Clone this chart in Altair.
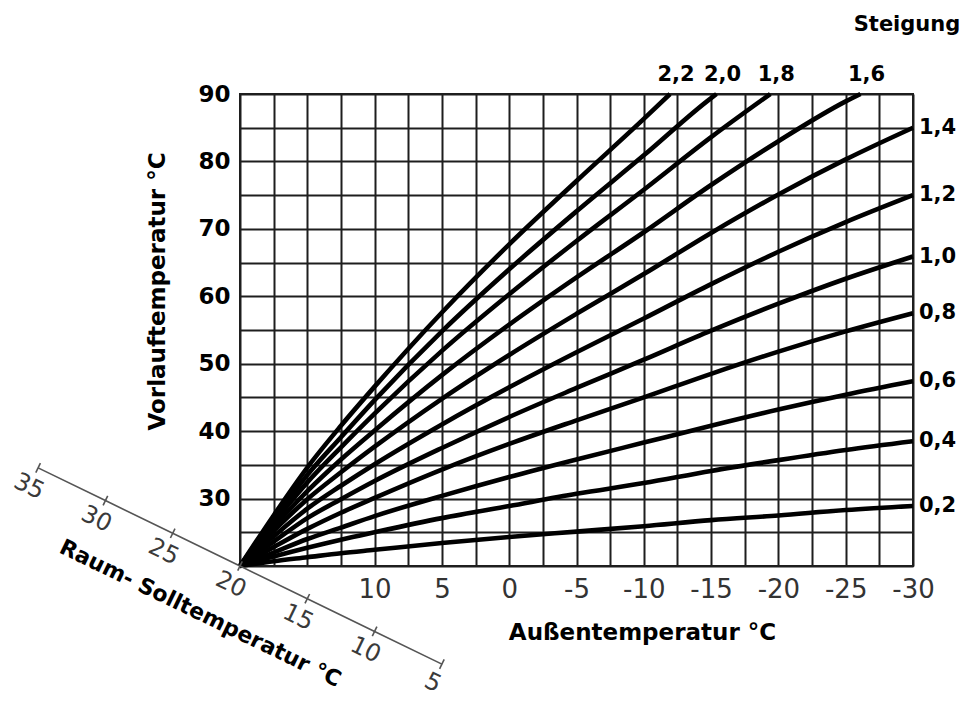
import altair as alt
import pandas as pd

# Außentemperatur sample points (°C)
temps = [20, 17.5, 15, 12.5, 10, 5, 0, -5, -10, -15, -20, -25, -30]
slopes = [0.2, 0.4, 0.6, 0.8, 1.0, 1.2, 1.4, 1.6, 1.8, 2.0, 2.2]

# Vorlauftemperatur (°C)
curve_02 = [20, 20.7, 21.3, 21.9, 22.4, 23.4, 24.3, 25.1, 25.9, 26.8, 27.5, 28.3, 28.9]
curve_04 = [20, 21.4, 22.7, 23.9, 25.0, 27.1, 28.9, 30.7, 32.3, 34.1, 35.7, 37.2, 38.5]
curve_06 = [20, 22.0, 24.0, 25.7, 27.4, 30.4, 33.2, 35.8, 38.3, 40.8, 43.2, 45.4, 47.4]
curve_08 = [20, 22.8, 25.5, 27.9, 30.1, 34.3, 38.1, 41.6, 45.0, 48.5, 51.8, 54.8, 57.5]
curve_10 = [20, 23.6, 27.1, 29.9, 32.6, 37.5, 42.1, 46.4, 50.6, 54.9, 58.9, 62.6, 65.9]
curve_12 = [20, 24.4, 28.5, 31.9, 35.1, 41.0, 46.5, 51.7, 56.7, 61.8, 66.6, 71.0, 75.0]
curve_14 = [20, 25.2, 29.9, 33.9, 37.7, 44.8, 51.3, 57.4, 63.3, 69.4, 75.1, 80.3, 85.0]
curve_16 = [20, 25.8, 31.1, 35.8, 40.1, 48.3, 55.8, 62.8, 69.5, 76.5, 83.0, 88.9, 90.0]
curve_18 = [20, 26.4, 32.4, 37.6, 42.6, 51.9, 60.3, 68.2, 75.8, 83.6, 90.0]
curve_20 = [20, 26.9, 33.5, 39.1, 44.6, 54.8, 64.0, 72.6, 80.9, 89.4, 90.0]
curve_22 = [20, 27.5, 34.6, 40.8, 46.6, 57.6, 67.7, 77.1, 86.3, 90.0]

# outside temperature where the steep curves leave the chart at 90 °C
temps_16 = temps[:12] + [-26.1]
temps_18 = temps[:10] + [-19.4]
temps_20 = temps[:10] + [-15.4]
temps_22 = temps[:9] + [-11.95]

curves = [
    (0.2, temps, curve_02), (0.4, temps, curve_04), (0.6, temps, curve_06),
    (0.8, temps, curve_08), (1.0, temps, curve_10), (1.2, temps, curve_12),
    (1.4, temps, curve_14), (1.6, temps_16, curve_16), (1.8, temps_18, curve_18),
    (2.0, temps_20, curve_20), (2.2, temps_22, curve_22),
]

# Raum-Solltemperatur scale (diagonal axis through the 20/20 origin)
room_temps = [35, 30, 25, 20, 15, 10, 5]
DIAG_SLOPE = 0.97          # drawn slope of the diagonal scale in chart units
DIAG_ANGLE = 25.9          # text rotation along the diagonal

x_grid = [20 - 2.5 * i for i in range(21)]
y_grid = list(range(20, 95, 5))

rows, top_lbl, right_lbl = [], [], []
for s, ts, vs in curves:
    name = f"{s:.1f}".replace(".", ",")
    for i, (t, v) in enumerate(zip(ts, vs)):
        rows.append({"S": name, "T": t, "V": v, "ord": i})
    end = {"S": name, "T": ts[-1], "V": vs[-1]}
    (top_lbl if vs[-1] >= 90 else right_lbl).append(end)

df = pd.DataFrame(rows)
df_top = pd.DataFrame(top_lbl)
df_right = pd.DataFrame(right_lbl)
df_diag = pd.DataFrame({"T": room_temps,
                        "V": [20 + (r - 20) * DIAG_SLOPE for r in room_temps],
                        "L": [str(r) for r in room_temps]})
df_diag_title = pd.DataFrame({"T": [21], "V": [20 + 1 * DIAG_SLOPE],
                              "L": ["Raum- Solltemperatur °C"]})
df_steig = pd.DataFrame({"T": [-30], "V": [90], "L": ["Steigung"]})

xs = alt.Scale(domain=[20, -30], nice=False, zero=False)
ys = alt.Scale(domain=[20, 90], nice=False, zero=False)

BOLD = "DejaVu Sans"
GRID = "#1e1e1e"

x_axis = alt.Axis(
    values=x_grid,
    labelExpr="datum.value <= 10 && datum.value % 5 == 0 ? '' + datum.value : ''",
    ticks=False, domain=False, grid=True, gridColor=GRID, gridWidth=2, gridOpacity=1,
    labelFont="DejaVu Sans", labelFontSize=26, labelColor="#333333", labelPadding=10,
    labelOverlap=False, labelBound=False, labelFlush=False,
    title="Außentemperatur °C", titleFont=BOLD, titleFontWeight="bold", titleFontSize=23,
    titleColor="black", titleX=402, titleY=66, titleAlign="center", titleBaseline="middle",
)
y_axis = alt.Axis(
    values=y_grid,
    labelExpr="datum.value >= 30 && datum.value % 10 == 0 ? '' + datum.value : ''",
    ticks=False, domain=False, grid=True, gridColor=GRID, gridWidth=2, gridOpacity=1,
    labelFont=BOLD, labelFontWeight="bold", labelFontSize=23, labelColor="black",
    labelPadding=10, labelOverlap=False, labelBound=False, labelFlush=False,
    title="Vorlauftemperatur °C", titleFont=BOLD, titleFontWeight="bold", titleFontSize=23,
    titleColor="black", titleX=-83, titleY=197, titleAngle=270, titleAlign="center",
    titleBaseline="middle",
)


def X():
    return alt.X("T:Q", scale=xs, axis=x_axis)


def Y():
    return alt.Y("V:Q", scale=ys, axis=y_axis)


lines = alt.Chart(df).mark_line(color="black", strokeWidth=4.6, interpolate="monotone").encode(
    x=X(), y=Y(), detail="S:N", order="ord:Q",
)

top_text = alt.Chart(df_top).mark_text(
    font=BOLD, fontWeight="bold", fontSize=21, color="black", dy=-19, dx=6,
    align="center", baseline="middle",
).encode(x=X(), y=Y(), text="S:N")

right_text = alt.Chart(df_right).mark_text(
    font=BOLD, fontWeight="bold", fontSize=21, color="black", dx=6,
    align="left", baseline="middle",
).encode(x=X(), y=Y(), text="S:N")

steig = alt.Chart(df_steig).mark_text(
    font=BOLD, fontWeight="bold", fontSize=21, color="black", dx=-6, dy=-69,
    align="center", baseline="middle",
).encode(x=X(), y=Y(), text="L:N")

diag_line = alt.Chart(df_diag).mark_line(color="#555555", strokeWidth=1.6).encode(
    x=X(), y=Y(), order="T:Q"
)
diag_ticks = alt.Chart(df_diag).mark_point(
    shape="M0.437,-0.899L-0.437,0.899", size=110, filled=False,
    stroke="#555555", strokeWidth=1.6, opacity=1,
).encode(x=X(), y=Y())
diag_labels = alt.Chart(df_diag).mark_text(
    font="DejaVu Sans", fontSize=24, color="#3a3a3a", angle=DIAG_ANGLE, dy=21,
    align="center", baseline="middle",
).encode(x=X(), y=Y(), text="L:N")
diag_title = alt.Chart(df_diag_title).mark_text(
    font=BOLD, fontWeight="bold", fontSize=22, color="black", angle=DIAG_ANGLE, dy=60,
    align="center", baseline="middle",
).encode(x=X(), y=Y(), text="L:N")

chart = alt.layer(
    lines, top_text, right_text, steig, diag_line, diag_ticks, diag_labels, diag_title
).properties(
    width=673, height=472,
    autosize=alt.AutoSizeParams(type="none"),
    padding={"left": 232, "top": 86, "right": 50, "bottom": 133},
).configure_view(stroke=GRID, strokeWidth=2)

chart.save("out.html", embed_options={"renderer": "svg", "actions": False})
